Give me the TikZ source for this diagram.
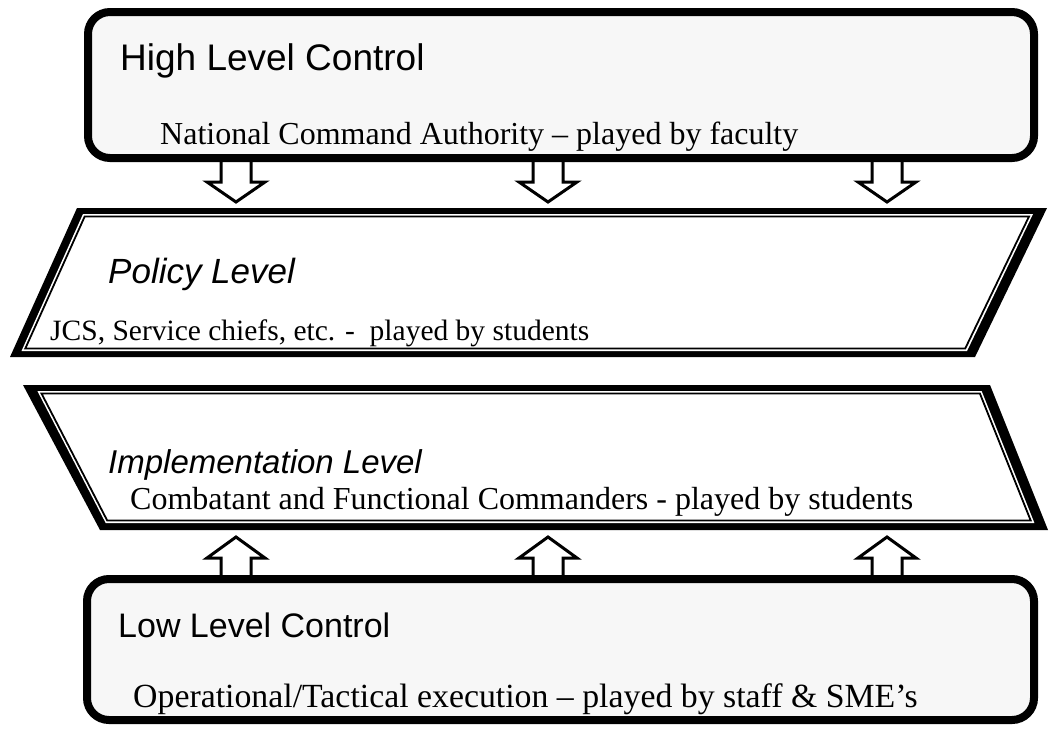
\documentclass[tikz,border=0pt]{standalone}
\usepackage{fontspec}
\setmainfont{Liberation Serif}
\setsansfont{Liberation Sans}
\definecolor{boxgray}{HTML}{F7F7F7}

\begin{document}
\begin{tikzpicture}[x=1pt, y=-1pt,
	ctrlbox/.style={draw=black, fill=boxgray, line width=8pt, rounded corners=22pt},
	blockarrow/.style={draw=black, fill=white, line width=3pt, line join=miter},
	headtext/.style={anchor=base west, inner sep=0pt, font=\sffamily\fontsize{35}{40}\selectfont},
	subtext/.style={anchor=base west, inner sep=0pt, font=\rmfamily\fontsize{32}{37}\selectfont}]
	\useasboundingbox (0,0) rectangle (1050,729);

	% block arrows between the levels
	\foreach \x in {236,548,887}{
		\draw[blockarrow] (\x-15,158) -- (\x-15,182) -- (\x-29,182) -- (\x,202) -- (\x+29,182) -- (\x+15,182) -- (\x+15,158);
		\draw[blockarrow] (\x-15,580) -- (\x-15,558) -- (\x-29,558) -- (\x,537) -- (\x+29,558) -- (\x+15,558) -- (\x+15,580);
	}

	% high level control
	\draw[ctrlbox] (88,12) rectangle (1034,158);
	\node[headtext, font=\sffamily\fontsize{37}{42}\selectfont] (high) at (120,70) {High Level Control};
	\node[subtext] (highsub) at (160,144) {National Command Authority -- played by faculty};

	% policy level
	\fill[black] (77,208) -- (1047,208) -- (975,357) -- (10,357) -- cycle;
	\fill[white] (83,214) -- (1033,214) -- (967,351) -- (21.5,351) -- cycle;
	\draw[line width=1.8pt] (84.7,216.5) -- (1029,216.5) -- (965.2,348.5) -- (25.3,348.5) -- cycle;
	\node[headtext, font=\sffamily\itshape\fontsize{35}{40}\selectfont] (policy) at (108,283) {Policy Level};
	\node[subtext, font=\rmfamily\fontsize{29.5}{34}\selectfont] (policysub) at (50,340) {JCS, Service chiefs, etc. -\ \ played by students};

	% implementation level
	\fill[black] (23,385) -- (990,385) -- (1048,530) -- (100,530) -- cycle;
	\fill[white] (37.4,391) -- (981.6,391) -- (1034.4,523) -- (105.7,523) -- cycle;
	\draw[line width=1.8pt] (41.5,393.5) -- (979.9,393.5) -- (1030.7,520.5) -- (107.2,520.5) -- cycle;
	\node[headtext, font=\sffamily\itshape\fontsize{33}{38}\selectfont] (impl) at (108,473) {Implementation Level};
	\node[subtext] (implsub) at (130,509) {Combatant and Functional Commanders - played by students};

	% low level control
	\draw[ctrlbox] (87,579) rectangle (1034,720);
	\node[headtext, font=\sffamily\fontsize{34}{39}\selectfont] (low) at (118,637) {Low Level Control};
	\node[subtext, font=\rmfamily\fontsize{33.8}{39}\selectfont] (lowsub) at (133,707) {Operational/Tactical execution -- played by staff \& SME’s};
\end{tikzpicture}
\end{document}
